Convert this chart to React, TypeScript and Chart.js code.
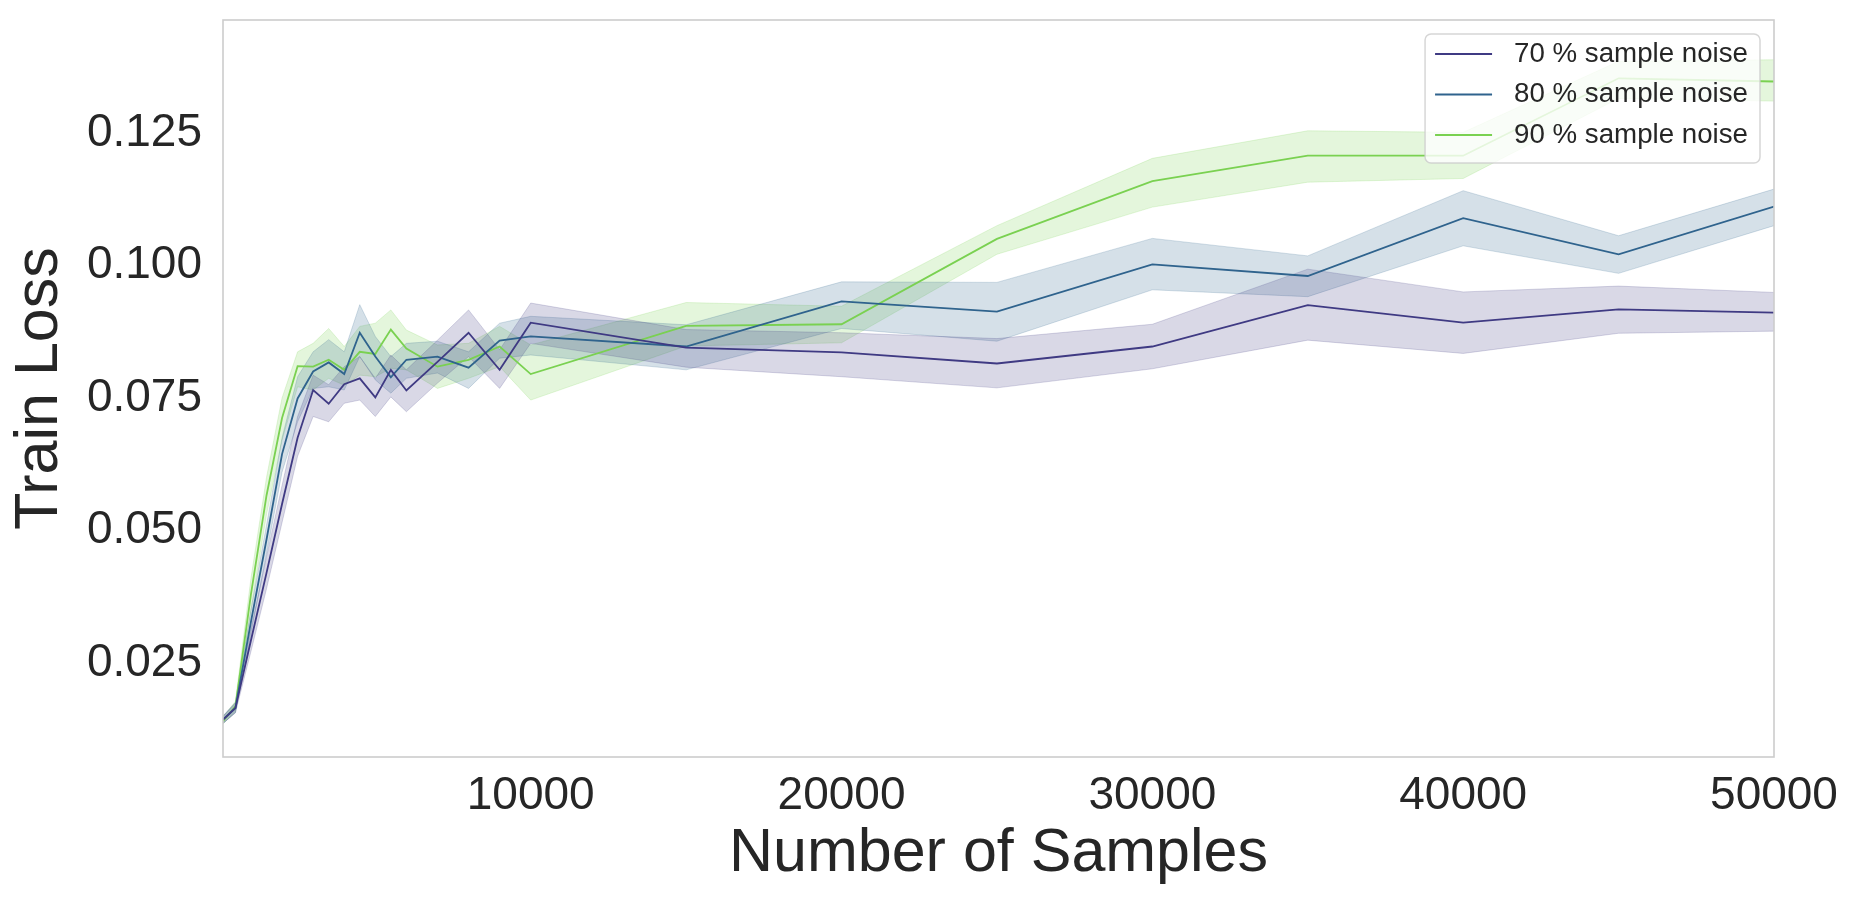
import { useEffect, useRef } from "react";
import { Chart, registerables } from "chart.js";

Chart.register(...registerables);

// number of training samples (x axis)
const samples = [
  100, 500, 1000, 1500, 2000, 2500, 3000, 3500, 4000, 4500, 5000, 5500, 6000,
  7000, 8000, 9000, 10000, 15000, 20000, 25000, 30000, 35000, 40000, 45000,
  50000,
];

// 70 % sample noise: mean + confidence band
const loss70 = [
  0.0143, 0.0165, 0.0293, 0.042, 0.055, 0.0675, 0.0765, 0.0739, 0.0776, 0.0787,
  0.0751, 0.0803, 0.0764, 0.0818, 0.0873, 0.0803, 0.0892, 0.0845, 0.0836,
  0.0815, 0.0847, 0.0925, 0.0892, 0.0917, 0.0911,
];
const low70 = [
  0.0136, 0.0156, 0.0272, 0.039, 0.0515, 0.064, 0.0715, 0.0705, 0.074, 0.0746,
  0.0715, 0.0752, 0.0724, 0.0778, 0.0828, 0.0768, 0.0853, 0.0808, 0.079,
  0.0769, 0.0805, 0.0859, 0.0834, 0.0872, 0.0876,
];
const high70 = [
  0.015, 0.0175, 0.0315, 0.045, 0.0585, 0.0715, 0.0793, 0.0775, 0.0809, 0.0828,
  0.0787, 0.0831, 0.0803, 0.0859, 0.0916, 0.0841, 0.0929, 0.0879, 0.0873,
  0.0862, 0.0889, 0.0993, 0.095, 0.0961, 0.0949,
];

// 80 % sample noise
const loss80 = [
  0.0143, 0.0165, 0.0328, 0.0483, 0.0644, 0.0749, 0.08, 0.0817, 0.0795, 0.0873,
  0.0828, 0.0789, 0.0822, 0.0828, 0.0807, 0.0858, 0.0866, 0.0847, 0.0932,
  0.0913, 0.1002, 0.098, 0.1089, 0.1021, 0.1111,
];
const low80 = [
  0.0136, 0.0156, 0.0305, 0.0455, 0.061, 0.0705, 0.0768, 0.0771, 0.0765, 0.0828,
  0.0784, 0.0759, 0.0787, 0.0797, 0.0768, 0.0825, 0.0831, 0.0803, 0.0881,
  0.0857, 0.0954, 0.0941, 0.1037, 0.0985, 0.1075,
];
const high80 = [
  0.015, 0.0175, 0.035, 0.051, 0.0675, 0.079, 0.0837, 0.086, 0.0837, 0.0926,
  0.0866, 0.0828, 0.0853, 0.0857, 0.0837, 0.0891, 0.0904, 0.0888, 0.0969,
  0.0968, 0.1051, 0.1018, 0.1141, 0.1056, 0.1144,
];

// 90 % sample noise
const loss90 = [
  0.014, 0.0168, 0.038, 0.0566, 0.0712, 0.081, 0.0809, 0.0822, 0.0803, 0.0837,
  0.0833, 0.0879, 0.0843, 0.0809, 0.0822, 0.0847, 0.0795, 0.0886, 0.0889,
  0.105, 0.1159, 0.1207, 0.1207, 0.1353, 0.1347,
];
const low90 = [
  0.0135, 0.0158, 0.035, 0.053, 0.067, 0.0771, 0.0765, 0.0787, 0.0774, 0.0793,
  0.079, 0.0806, 0.0803, 0.0768, 0.0787, 0.0809, 0.0746, 0.0848, 0.0854,
  0.1021, 0.111, 0.1157, 0.1164, 0.1315, 0.131,
];
const high90 = [
  0.0148, 0.0178, 0.041, 0.06, 0.075, 0.0837, 0.0853, 0.0881, 0.0847, 0.0885,
  0.0891, 0.0916, 0.0878, 0.085, 0.0853, 0.0885, 0.085, 0.093, 0.0923, 0.1075,
  0.1202, 0.1254, 0.1251, 0.1385, 0.1388,
];

const xTicks = [10000, 20000, 30000, 40000, 50000];
const yTicks = [0.025, 0.05, 0.075, 0.1, 0.125];

const FONT = '"Liberation Sans", Arial, sans-serif';
const TEXT = "#262626";

const series = [
  { label: "70 % sample noise", color: "#3f3a83", band: "rgba(63,58,131,0.2)", mean: loss70, low: low70, high: high70 },
  { label: "80 % sample noise", color: "#2f638d", band: "rgba(47,99,141,0.2)", mean: loss80, low: low80, high: high80 },
  { label: "90 % sample noise", color: "#7ad151", band: "rgba(122,209,81,0.2)", mean: loss90, low: low90, high: high90 },
];

const toPoints = (ys: number[]) => samples.map((x, i) => ({ x, y: ys[i] }));

// axes frame + matplotlib-like legend box in the top right corner
const frameAndLegend = {
  id: "frameAndLegend",
  afterDatasetsDraw(chart: any) {
    const { ctx, chartArea: a } = chart;
    ctx.save();
    ctx.strokeStyle = "#cccccc";
    ctx.lineWidth = 1.6;
    ctx.strokeRect(a.left, a.top, a.right - a.left, a.bottom - a.top);

    ctx.font = `27.7px ${FONT}`;
    const textW = Math.max(...series.map((s) => ctx.measureText(s.label).width));
    const w = 10 + 57 + 22 + textW + 12;
    const h = 129;
    const x0 = a.right - 14 - w;
    const y0 = a.top + 14;

    ctx.beginPath();
    ctx.roundRect(x0, y0, w, h, 6);
    ctx.fillStyle = "rgba(255,255,255,0.8)";
    ctx.fill();
    ctx.strokeStyle = "rgba(204,204,204,0.8)";
    ctx.lineWidth = 1.5;
    ctx.stroke();

    series.forEach((s, i) => {
      const y = y0 + 20 + i * 40.5;
      ctx.beginPath();
      ctx.moveTo(x0 + 10, y);
      ctx.lineTo(x0 + 67, y);
      ctx.strokeStyle = s.color;
      ctx.lineWidth = 1.8;
      ctx.stroke();
      ctx.fillStyle = TEXT;
      ctx.textBaseline = "middle";
      ctx.textAlign = "left";
      ctx.fillText(s.label, x0 + 89, y);
    });
    ctx.restore();
  },
};

// keep tick labels from pushing the plot area inwards
const noEdgePadding = (s: any) => {
  s.paddingTop = 0;
  s.paddingBottom = 0;
  s.paddingLeft = 0;
  s.paddingRight = 0;
};

export default function App() {
  const canvasRef = useRef<HTMLCanvasElement | null>(null);

  useEffect(() => {
    if (!canvasRef.current) return;

    const datasets: any[] = [];
    series.forEach((s) => {
      datasets.push({
        label: s.label,
        data: toPoints(s.mean),
        borderColor: s.color,
        borderWidth: 1.8,
        pointRadius: 0,
        fill: false,
        order: 0,
      });
      datasets.push({
        label: s.label + " upper",
        data: toPoints(s.high),
        borderColor: s.band,
        backgroundColor: s.band,
        borderWidth: 1,
        pointRadius: 0,
        fill: "+1",
        order: 1,
      });
      datasets.push({
        label: s.label + " lower",
        data: toPoints(s.low),
        borderColor: s.band,
        borderWidth: 1,
        pointRadius: 0,
        fill: false,
        order: 1,
      });
    });

    const chart = new Chart(canvasRef.current, {
      type: "line",
      data: { datasets },
      plugins: [frameAndLegend],
      options: {
        animation: false,
        responsive: true,
        maintainAspectRatio: false,
        events: [],
        layout: { padding: { left: 0, top: 20, right: 85, bottom: 0 } },
        plugins: {
          legend: { display: false },
          tooltip: { enabled: false },
        },
        scales: {
          x: {
            type: "linear",
            min: 100,
            max: 50000,
            grid: { display: false, drawTicks: false },
            border: { display: false },
            ticks: {
              font: { family: FONT, size: 46 },
              color: TEXT,
              padding: 12,
              autoSkip: false,
              maxRotation: 0,
              callback: (v: any) => String(v),
            },
            afterBuildTicks: (s: any) => {
              s.ticks = xTicks.map((value) => ({ value }));
            },
            afterFit: (s: any) => {
              s.height = 151;
              noEdgePadding(s);
            },
            title: {
              display: true,
              text: "Number of Samples",
              font: { family: FONT, size: 61 },
              color: TEXT,
              padding: { top: 0, bottom: 17 },
            },
          },
          y: {
            type: "linear",
            min: 0.00726,
            max: 0.1463,
            grid: { display: false, drawTicks: false },
            border: { display: false },
            ticks: {
              font: { family: FONT, size: 46 },
              color: TEXT,
              padding: 21,
              callback: (v: any) => Number(v).toFixed(3),
            },
            afterBuildTicks: (s: any) => {
              s.ticks = yTicks.map((value) => ({ value }));
            },
            afterFit: (s: any) => {
              s.width = 223;
              noEdgePadding(s);
            },
            title: {
              display: true,
              text: "Train Loss",
              font: { family: FONT, size: 61 },
              color: TEXT,
              padding: { top: 4, bottom: 0 },
            },
          },
        },
      },
    });

    return () => chart.destroy();
  }, []);

  return (
    <div style={{ position: "fixed", left: 0, top: 0, width: 1859, height: 908, background: "#fff" }}>
      <canvas ref={canvasRef} />
    </div>
  );
}
